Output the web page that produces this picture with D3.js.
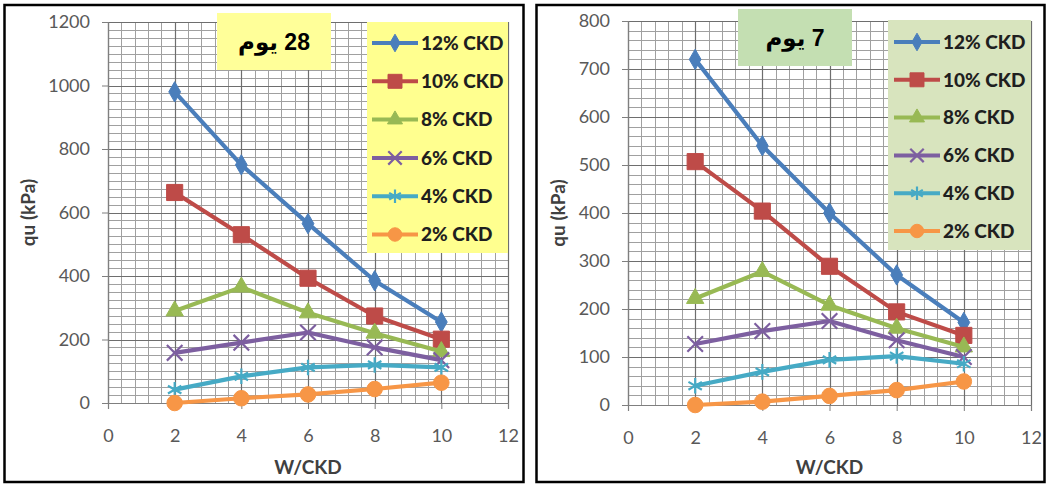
<!DOCTYPE html>
<html lang="en">
<head>
<meta charset="utf-8">
<title>qu vs W/CKD</title>
<script src="https://d3js.org/d3.v7.min.js"></script>
<style>
  body { margin: 0; background: #fff; }
  svg { display: block; }
</style>
</head>
<body>
<script>
// ---- data ----
var wckd = [2, 4, 6, 8, 10];
var seriesNames = ["12% CKD", "10% CKD", "8% CKD", "6% CKD", "4% CKD", "2% CKD"];
var seriesColors = ["#4a7ebb", "#be4b48", "#98b954", "#7d5fa0", "#46aac5", "#f79646"];
var seriesMarkers = ["diamond", "square", "triangle", "times", "star", "circle"];

// 28 days
var d28_12 = [980, 750, 565, 385, 255];
var d28_10 = [663, 530, 393, 274, 201];
var d28_8 = [290, 365, 284, 220, 162];
var d28_6 = [158, 190, 222, 175, 135];
var d28_4 = [42, 84, 112, 120, 112];
var d28_2 = [0, 15, 27, 44, 64];

// 7 days
var d7_12 = [720, 540, 400, 271, 172];
var d7_10 = [507, 404, 289, 194, 145];
var d7_8 = [222, 278, 208, 160, 121];
var d7_6 = [127, 154, 175, 135, 100];
var d7_4 = [40, 69, 94, 102, 86];
var d7_2 = [0, 7, 19, 31, 49];

var xTicks = [0, 2, 4, 6, 8, 10, 12];
var yTicks28 = [0, 200, 400, 600, 800, 1000, 1200];
var yTicks7 = [0, 100, 200, 300, 400, 500, 600, 700, 800];

var W = 1048, H = 484;
var svg = d3.select("body").append("svg").attr("width", W).attr("height", H);

var panels = [
  {
    title: "28 يوم", series: [d28_12, d28_10, d28_8, d28_6, d28_4, d28_2], yTicks: yTicks28,
    frame: [4.5, 5, 519, 477],
    plot: {x0: 108, x1: 508, y0: 22, y1: 403}, yMinor: 25,
    yTitleX: 28, titleBox: [217, 13, 114, 57], titleFill: "#ffff99",
    legend: [367, 22, 141, 231], legendFill: "#ffff8f", legendY0: 43, legendStep: 38.3, legendX: 372
  },
  {
    title: "7 يوم", series: [d7_12, d7_10, d7_8, d7_6, d7_4, d7_2], yTicks: yTicks7,
    frame: [536.5, 5, 508, 477],
    plot: {x0: 628, x1: 1031, y0: 21, y1: 405}, yMinor: 20,
    yTitleX: 558, titleBox: [738, 9, 114, 57], titleFill: "#c4dfb2",
    legend: [888, 20, 143, 230], legendFill: "#d8e4be", legendY0: 42, legendStep: 37.8, legendX: 894
  }
];

function markerPath(type, size) {
  var t = {diamond: d3.symbolDiamond, square: d3.symbolSquare, triangle: d3.symbolTriangle,
           times: d3.symbolTimes, star: d3.symbolAsterisk, circle: d3.symbolCircle}[type];
  return d3.symbol().type(t).size(size)();
}
var markerSize = {diamond: 120, square: 260, triangle: 130, times: 160, star: 170, circle: 190};

function drawMarker(g, type, color, cx, cy, scale) {
  var s = markerSize[type] * (scale || 1);
  var stroked = type === "times" || type === "star";
  g.append("path")
    .attr("d", markerPath(type, s))
    .attr("transform", "translate(" + cx + "," + cy + ")")
    .attr("fill", stroked ? "none" : color)
    .attr("stroke", color)
    .attr("stroke-width", stroked ? 2.2 : 1);
}

panels.forEach(function(p) {
  var g = svg.append("g");
  var x = d3.scaleLinear().domain([0, 12]).range([p.plot.x0, p.plot.x1]);
  var yMax = d3.max(p.yTicks);
  var y = d3.scaleLinear().domain([0, yMax]).range([p.plot.y1, p.plot.y0]);

  // minor grid
  var grid = g.append("g");
  grid.selectAll("line.vx").data(d3.range(0, 12.001, 0.4)).enter().append("line")
    .attr("x1", function(d) { return Math.round(x(d)) + 0.5; })
    .attr("x2", function(d) { return Math.round(x(d)) + 0.5; })
    .attr("y1", p.plot.y0).attr("y2", p.plot.y1)
    .attr("stroke", "#a0a0a0").attr("stroke-width", 1);
  grid.selectAll("line.hy").data(d3.range(0, yMax + 0.001, p.yMinor)).enter().append("line")
    .attr("y1", function(d) { return Math.round(y(d)) + 0.5; })
    .attr("y2", function(d) { return Math.round(y(d)) + 0.5; })
    .attr("x1", p.plot.x0).attr("x2", p.plot.x1)
    .attr("stroke", "#a0a0a0").attr("stroke-width", 1);
  // major grid
  grid.selectAll("line.mx").data(xTicks).enter().append("line")
    .attr("x1", function(d) { return Math.round(x(d)) + 0.5; })
    .attr("x2", function(d) { return Math.round(x(d)) + 0.5; })
    .attr("y1", p.plot.y0).attr("y2", p.plot.y1)
    .attr("stroke", "#6e6e6e").attr("stroke-width", 1.2);
  grid.selectAll("line.my").data(p.yTicks).enter().append("line")
    .attr("y1", function(d) { return Math.round(y(d)) + 0.5; })
    .attr("y2", function(d) { return Math.round(y(d)) + 0.5; })
    .attr("x1", p.plot.x0).attr("x2", p.plot.x1)
    .attr("stroke", "#6e6e6e").attr("stroke-width", 1.2);

  // axes
  var xAxis = d3.axisBottom(x).tickValues(xTicks).tickSize(6).tickPadding(20).tickFormat(d3.format("d"));
  var gx = g.append("g").attr("transform", "translate(0," + p.plot.y1 + ")").call(xAxis);
  var yAxis = d3.axisLeft(y).tickValues(p.yTicks).tickSize(6).tickPadding(12).tickFormat(d3.format("d"));
  var gy = g.append("g").attr("transform", "translate(" + p.plot.x0 + ",0)").call(yAxis);
  [gx, gy].forEach(function(a) {
    a.select(".domain").attr("stroke", "#7f7f7f").attr("stroke-width", 1.2);
    a.selectAll(".tick line").attr("stroke", "#7f7f7f");
    a.selectAll(".tick text").attr("fill", "#595959")
      .style("font-family", "Lato, 'Open Sans', sans-serif").style("font-size", "18px");
  });

  // axis titles
  g.append("text")
    .attr("transform", "translate(" + p.yTitleX + "," + ((p.plot.y0 + p.plot.y1) / 2) + ") rotate(-90)")
    .attr("text-anchor", "middle").attr("dy", "0.35em")
    .style("font-family", "Lato, 'Open Sans', sans-serif").style("font-size", "19px").style("font-weight", "bold")
    .attr("fill", "#404040").text("qu (kPa)");
  g.append("text")
    .attr("x", (p.plot.x0 + p.plot.x1) / 2).attr("y", 474)
    .attr("text-anchor", "middle")
    .style("font-family", "Lato, 'Open Sans', sans-serif").style("font-size", "19px").style("font-weight", "bold")
    .attr("fill", "#404040").text("W/CKD");

  // series lines + markers
  var line = d3.line().x(function(d) { return x(d[0]); }).y(function(d) { return y(d[1]); });
  p.series.forEach(function(vals, i) {
    var pts = wckd.map(function(w, k) { return [w, vals[k]]; });
    g.append("path").datum(pts).attr("d", line)
      .attr("fill", "none").attr("stroke", seriesColors[i]).attr("stroke-width", 4.2)
      .attr("stroke-linejoin", "round");
    pts.forEach(function(pt) {
      drawMarker(g, seriesMarkers[i], seriesColors[i], x(pt[0]), y(pt[1]));
    });
  });

  // legend
  var lg = g.append("g");
  lg.append("rect").attr("x", p.legend[0]).attr("y", p.legend[1])
    .attr("width", p.legend[2]).attr("height", p.legend[3]).attr("fill", p.legendFill);
  seriesNames.forEach(function(name, i) {
    var ly = p.legendY0 + i * p.legendStep;
    lg.append("line").attr("x1", p.legendX).attr("x2", p.legendX + 46)
      .attr("y1", ly).attr("y2", ly)
      .attr("stroke", seriesColors[i]).attr("stroke-width", 4);
    drawMarker(lg, seriesMarkers[i], seriesColors[i], p.legendX + 23, ly, 0.75);
    lg.append("text").attr("x", p.legendX + 49).attr("y", ly).attr("dy", "0.36em")
      .style("font-family", "Lato, 'Open Sans', sans-serif").style("font-size", "19px").style("font-weight", "900")
      .attr("fill", "#1f1f1f").text(name);
  });

  // title box
  g.append("rect").attr("x", p.titleBox[0]).attr("y", p.titleBox[1])
    .attr("width", p.titleBox[2]).attr("height", p.titleBox[3]).attr("fill", p.titleFill);
  g.append("text").attr("x", p.titleBox[0] + p.titleBox[2] / 2).attr("y", p.titleBox[1] + p.titleBox[3] / 2)
    .attr("dy", "0.36em").attr("text-anchor", "middle").attr("direction", "rtl")
    .style("font-family", "'Liberation Sans', 'DejaVu Sans', sans-serif").style("font-size", "23px").style("font-weight", "bold")
    .attr("fill", "#000").text(p.title);

  // outer frame
  svg.append("rect").attr("x", p.frame[0]).attr("y", p.frame[1])
    .attr("width", p.frame[2]).attr("height", p.frame[3])
    .attr("fill", "none").attr("stroke", "#000").attr("stroke-width", 2.5);
});
</script>
</body>
</html>
